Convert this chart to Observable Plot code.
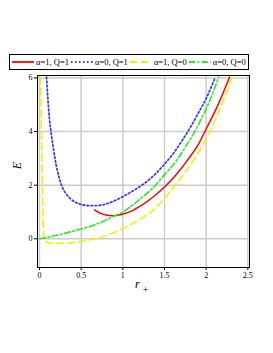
<!DOCTYPE html>
<html>
<head>
<meta charset="utf-8">
<script src="https://cdn.jsdelivr.net/npm/d3@7"></script>
<script src="https://cdn.jsdelivr.net/npm/@observablehq/plot@0.6"></script>
<style>
  body { margin: 0; background: #fff; }
  #wrap { position: relative; width: 273px; height: 353px; font-family: "Liberation Serif", "DejaVu Serif", serif; }
  #legend { position: absolute; left: 9px; top: 54px; width: 238px; height: 14px; border: 1px solid #000; background: #fff;
            display: flex; align-items: center; font-size: 8.5px; white-space: nowrap; }
  #legend .item { display: flex; align-items: center; margin-left: 2px; }
  #legend svg { display: block; margin-right: 2px; }
  .lab { position: absolute; font-style: italic; font-size: 12px; }
  #plot { position: absolute; left: 0; top: 0; }
</style>
</head>
<body>
<div id="wrap">
  <div id="plot"></div>
  <div id="legend"></div>
  <div class="lab" style="left:14px; top:158px; transform: rotate(-90deg);">E</div>
  <div class="lab" style="left:135px; top:277px;">r<span style="font-style:normal; font-size:10px; position:relative; top:5px; left:3px;">+</span></div>
</div>
<script>
// α=1, Q=1 (red solid)
const rRed = [0.66,0.70,0.75,0.87,0.97,1.11,1.21,1.36,1.5,1.65,1.79,1.91,2.01,2.13,2.28];
const eRed = [1.08,1.00,0.93,0.86,0.90,1.04,1.22,1.55,1.93,2.43,2.99,3.54,4.16,4.91,6.03];
// α=0, Q=1 (blue dotted)
const rBlue = [0.084,0.10,0.12,0.14,0.16,0.18,0.20,0.23,0.264,0.30,0.37,0.47,0.59,0.69,0.81,0.93,1.05,1.17,1.29,1.41,1.51,1.61,1.71,1.81,1.89,2.01,2.11];
const eBlue = [6.03,5.25,4.45,3.95,3.5,3.1,2.75,2.35,2.0,1.77,1.5,1.31,1.24,1.24,1.31,1.46,1.66,1.88,2.14,2.48,2.82,3.2,3.66,4.15,4.6,5.3,6.03];
// α=1, Q=0 (yellow dashed)
const rYellow = [0.012,0.024,0.035,0.041,0.046,0.055,0.07,0.1,0.19,0.3,0.43,0.55,0.67,0.8,0.91,1.11,1.21,1.37,1.47,1.61,1.75,1.87,1.99,2.16,2.31];
const eYellow = [6.03,4.0,2.0,1.0,0.4,0.05,-0.08,-0.14,-0.17,-0.16,-0.13,-0.07,0.0,0.12,0.25,0.56,0.74,1.08,1.40,1.93,2.49,3.04,3.67,4.79,6.03];
// α=0, Q=0 (green dash-dot)
const rGreen = [0,0.19,0.43,0.67,0.91,1.0,1.13,1.21,1.39,1.51,1.63,1.75,1.87,1.93,2.05,2.15];
const eGreen = [0,0.12,0.31,0.53,0.87,1.0,1.29,1.49,1.99,2.43,2.86,3.42,4.04,4.4,5.2,6.03];

const xTicks = [0,0.5,1,1.5,2,2.5];
const yTicks = [0,2,4,6];

const series = [
  {label:"α=1, Q=1", r:rRed, e:eRed, color:"#ff0000", dash:null, width:1.5},
  {label:"α=0, Q=1", r:rBlue, e:eBlue, color:"#3a3aff", dash:"1.6,2.4", width:1.8},
  {label:"α=1, Q=0", r:rYellow, e:eYellow, color:"#f2f200", dash:"7,4", width:1.6},
  {label:"α=0, Q=0", r:rGreen, e:eGreen, color:"#22ee22", dash:"6,2.5,1.8,2.5", width:1.6}
];

const lineMarks = series.map(s => Plot.line(s.r.map((r,i)=>({r, e:s.e[i]})), {
  x:"r", y:"e", stroke:s.color, strokeWidth:s.width, strokeDasharray:s.dash, curve:"monotone-x", clip:true
}));

const chart = Plot.plot({
  width: 273, height: 353,
  marginTop: 75, marginBottom: 86, marginLeft: 37, marginRight: 24,
  style: {fontFamily: "'Liberation Serif', serif", fontSize: "8px", background: "transparent"},
  x: {domain: [-0.024, 2.52], ticks: xTicks, tickFormat: d => String(d), label: null, tickSize: 3, tickPadding: 2},
  y: {domain: [-1.07, 6.09], ticks: yTicks, tickFormat: d => String(d), label: null, tickSize: 3, tickPadding: 2},
  marks: [
    Plot.gridX(xTicks, {stroke:"#cccccc", strokeOpacity:1, strokeWidth:1.5}),
    Plot.gridY(yTicks, {stroke:"#cccccc", strokeOpacity:1, strokeWidth:1.5}),
    ...lineMarks,
    Plot.axisX({ticks: xTicks, tickFormat: d => String(d), tickSize: 3, tickPadding: 2, label: null}),
    Plot.axisY({ticks: yTicks, tickFormat: d => String(d), tickSize: 3, tickPadding: 2, label: null}),
    Plot.frame({stroke:"#000", strokeWidth:1})
  ]
});
document.getElementById("plot").appendChild(chart);

const legend = d3.select("#legend");
series.forEach(s => {
  const it = legend.append("div").attr("class","item");
  const sv = it.append("svg").attr("width", 22).attr("height", 6);
  sv.append("line").attr("x1",0).attr("x2",22).attr("y1",3).attr("y2",3)
    .attr("stroke", s.color).attr("stroke-width", s.width + 0.3)
    .attr("stroke-dasharray", s.dash);
  it.append("span").text(s.label);
});
</script>
</body>
</html>
